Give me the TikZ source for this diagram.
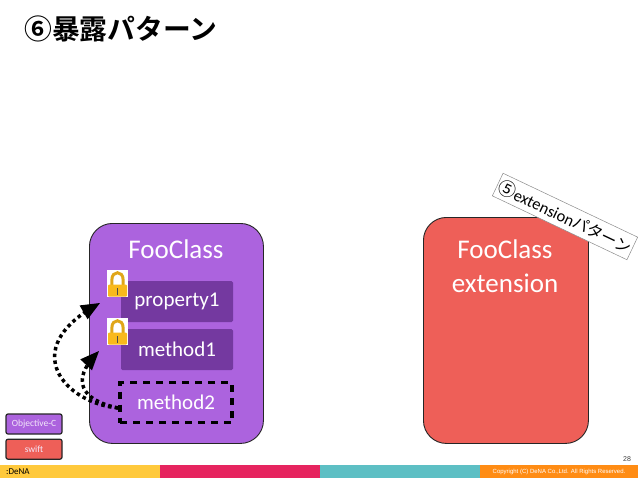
\documentclass[tikz,border=0pt]{standalone}
\usepackage{fontspec}
\setmainfont{Carlito}
\newfontfamily\jpfont{Noto Sans CJK JP}
\newfontfamily\jpbold{Noto Sans CJK JP Bold}
\newfontfamily\arialfont{Liberation Sans}
\usepackage{tikz}
\usetikzlibrary{arrows, positioning, calc}

\definecolor{fooPurple}{HTML}{AC63DE}
\definecolor{fooDark}{HTML}{7439A0}
\definecolor{fooRed}{HTML}{EE5F58}
\definecolor{barYellow}{HTML}{FFC93C}
\definecolor{barPink}{HTML}{E6245F}
\definecolor{barTeal}{HTML}{5DBFC4}
\definecolor{barOrange}{HTML}{FF8C14}
\definecolor{lockGold}{HTML}{F9B91C}

\tikzset{
  classbox/.style={draw=black!85, line width=0.9pt, rounded corners=23pt, anchor=north west},
  memberbox/.style={fill=fooDark, rounded corners=1.5pt, minimum width=112pt, minimum height=41pt, text=white, font=\fontsize{21}{21}\selectfont},
  legendbox/.style={draw=black!85, line width=1.2pt, rounded corners=2pt, minimum width=56pt, minimum height=20pt, text=white!85!fooPurple, font=\fontsize{9.5}{10}\selectfont},
  barpart/.style={minimum height=13pt, minimum width=160pt, inner sep=0pt, outer sep=0pt, anchor=north west},
  lockbg/.style={fill=white, minimum width=21pt, minimum height=27pt, inner sep=0pt},
  dotline/.style={line width=3.5pt, dash pattern=on 3.5pt off 3.3pt, -triangle 45},
}

\newcommand{\lockicon}[1]{%
  \draw[line width=3pt, draw=lockGold!90!black] ($(#1)+(-5.6,2)$) -- ++(0,-6) .. controls ($(#1)+(-5.6,-13)$) and ($(#1)+(5.6,-13)$) .. ($(#1)+(5.6,-4)$) -- ++(0,6);
  \fill[lockGold, rounded corners=1pt] ($(#1)+(-9.5,1)$) rectangle ($(#1)+(9.5,13)$);
  \fill[black!70] ($(#1)+(-0.8,4)$) rectangle ($(#1)+(0.8,11)$);
}

\begin{document}
\begin{tikzpicture}[x=1pt,y=-1pt]
\useasboundingbox (0,0) rectangle (638,479);

% title
\node[font=\jpbold\fontsize{27.8}{28}\selectfont, inner sep=0pt, anchor=west] (title) at (24,29) {⑥暴露パターン};

% class boxes
\node[classbox, fill=fooPurple, minimum width=174pt, minimum height=220pt] (fooBox) at (89,223) {};
\node[text=white, font=\fontsize{27}{27}\selectfont] (fooName) at (176,249) {FooClass};
\node[classbox, fill=fooRed, minimum width=165pt, minimum height=226pt] (extBox) at (423,217) {};
\node[text=white, font=\fontsize{27}{34}\selectfont, align=center] (extName) at (505,266) {FooClass\\extension};

% members
\node[memberbox] (prop1) at (177,301.5) {property1};
\node[memberbox] (meth1) at (177,349.5) {method1};
\node[draw=black, line width=3.6pt, dash pattern=on 7pt off 6pt, minimum width=112pt, minimum height=40pt, text=white, font=\fontsize{21}{21}\selectfont] (meth2) at (176,402.5) {method2};

% locks
\node[lockbg] (lockA) at (117.5,283.5) {};
\lockicon{lockA}
\node[lockbg] (lockB) at (117.5,331.5) {};
\lockicon{lockB}

% arrows
\coordinate (tipA) at (100,303);
\coordinate (tipB) at (99,351);
\draw[dotline] ($(meth2.west)+(0,5.5)$) .. controls (65,403) and (18,350) .. (tipA);
\draw[dotline] ($(meth2.west)+(0,5.5)$) .. controls (80,400) and (72,380) .. (tipB);

% rotated tag
\node[draw=black!45, fill=white, line width=0.5pt, rotate=-25.4, minimum width=149pt, minimum height=25pt, inner sep=0pt, font=\fontsize{16.5}{16}\selectfont] (tag) at (565,216.5) {{\jpfont\fontsize{18}{16}\selectfont ⑤}extension{\jpfont\fontsize{16}{16}\selectfont パターン}};

% legend
\node[legendbox, fill=fooPurple] (legObjc) at (34,424) {Objective-C};
\node[legendbox, fill=fooRed, below=4pt of legObjc] (legSwift) {swift};

% footer
\node[barpart, fill=barYellow] (barA) at (0,465) {};
\node[barpart, fill=barPink, right=0pt of barA] (barB) {};
\node[barpart, fill=barTeal, right=0pt of barB] (barC) {};
\node[barpart, fill=barOrange, right=0pt of barC, minimum width=158pt] (barD) {};
\node[font=\fontsize{9}{9}\selectfont, inner sep=0pt, anchor=west] (logo) at (6,472) {:DeNA};
\node[text=white, font=\arialfont\fontsize{6}{7}\selectfont, inner sep=0pt] (copy) at (559,472) {Copyright (C) DeNA Co.,Ltd. All Rights Reserved.};
\node[text=black!75, font=\arialfont\fontsize{7}{7}\selectfont, inner sep=0pt] (pageNo) at (627,459) {28};
\end{tikzpicture}
\end{document}
